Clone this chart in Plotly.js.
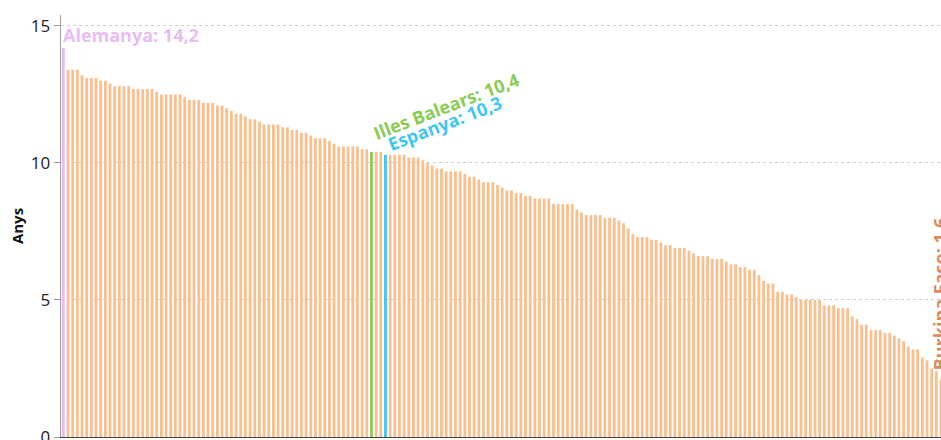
<!DOCTYPE html>
<html>
<head>
<meta charset="utf-8">
<script src="https://cdn.plot.ly/plotly-3.0.1.min.js"></script>
<style>
  html, body { margin: 0; padding: 0; overflow: hidden; background: #fff; }
  #chart { width: 1000px; height: 480px; }
</style>
</head>
<body>
<div id="chart"></div>
<script>
// Mean years of schooling, sorted descending (one bar per territory)
const values = [
  14.2,
  13.4, 13.4, 13.4,
  13.2,
  13.1, 13.1, 13.1,
  13.0, 13.0,
  12.9,
  12.8, 12.8, 12.8, 12.8,
  12.7, 12.7, 12.7, 12.7, 12.7,
  12.6,
  12.5, 12.5, 12.5, 12.5, 12.5,
  12.4,
  12.3, 12.3, 12.3,
  12.2, 12.2, 12.2,
  12.1, 12.1,
  12.0,
  11.9,
  11.8, 11.8,
  11.7,
  11.6, 11.6,
  11.5,
  11.4, 11.4, 11.4, 11.4,
  11.3, 11.3,
  11.2, 11.2,
  11.1, 11.1,
  11.0,
  10.9, 10.9, 10.9,
  10.8,
  10.7,
  10.6, 10.6, 10.6, 10.6, 10.6,
  10.5, 10.5,
  10.4,
  10.4, 10.4,
  10.3,
  10.3, 10.3, 10.3, 10.3,
  10.2, 10.2, 10.2,
  10.1,
  10.0,
  9.9,
  9.8, 9.8,
  9.7, 9.7, 9.7, 9.7,
  9.6,
  9.5, 9.5,
  9.4,
  9.3, 9.3, 9.3,
  9.2,
  9.1,
  9.0, 9.0,
  8.9, 8.9,
  8.8, 8.8,
  8.7, 8.7, 8.7, 8.7,
  8.5, 8.5, 8.5, 8.5, 8.5,
  8.3,
  8.2,
  8.1, 8.1, 8.1, 8.1,
  8.0, 8.0, 8.0,
  7.9,
  7.8,
  7.6,
  7.4,
  7.3, 7.3, 7.3,
  7.2, 7.2,
  7.1,
  7.0, 7.0,
  6.9, 6.9, 6.9,
  6.8,
  6.7,
  6.6, 6.6, 6.6,
  6.5, 6.5, 6.5,
  6.4,
  6.3, 6.3,
  6.2, 6.2,
  6.1, 6.1,
  5.9,
  5.7,
  5.6, 5.6,
  5.3, 5.3,
  5.2, 5.2,
  5.1,
  5.0,
  5.0, 5.0, 5.0, 5.0,
  4.8, 4.8, 4.8,
  4.7, 4.7, 4.7,
  4.4,
  4.3,
  4.1, 4.1,
  3.9, 3.9, 3.9,
  3.8, 3.8,
  3.7,
  3.6,
  3.5,
  3.3,
  3.2, 3.2,
  2.9,
  2.8,
  2.5,
  2.4,
  2.1,
  1.6
];

// Highlighted territories: rank position in the sorted list, label, colour
const highlightNames  = ['Alemanya', 'Illes Balears', 'Espanya', 'Burkina Faso'];
const highlightRanks  = [0, 66, 69, 189];
const highlightColors = ['#e9bdf3', '#8acd55', '#3fc7f4', '#dc8b5f'];
const highlightBarColors = ['#e9bdf3', '#8acd55', '#3fc7f4', '#fbbf8e'];
const baseColor = '#fbbf8e';
const tickValues = [0, 5, 10, 15];

const colors = values.map(() => baseColor);
highlightRanks.forEach((r, k) => { colors[r] = highlightBarColors[k]; });

const fmt = v => v.toFixed(1).replace('.', ',');

const labelStyle = [
  { xanchor: 'left',   yanchor: 'bottom', textangle: 0,   yshift: -1, xshift: -2 },
  { xanchor: 'left',   yanchor: 'bottom', textangle: -21, yshift: 5,  xshift: -4 },
  { xanchor: 'left',   yanchor: 'bottom', textangle: -21, yshift: -4, xshift: -3 },
  { xanchor: 'center', yanchor: 'bottom', textangle: -90, yshift: 21, xshift: -6 }
];

const annotations = highlightRanks.map((r, k) => Object.assign({
  x: r,
  y: values[r],
  xref: 'x',
  yref: 'y',
  text: highlightNames[k] + ': ' + fmt(values[r]),
  showarrow: false,
  font: { family: 'Open Sans', size: 18, weight: 700, color: highlightColors[k] }
}, labelStyle[k]));

const trace = {
  type: 'bar',
  y: values,
  marker: { color: colors, line: { width: 0 } },
  hoverinfo: 'y'
};

const layout = {
  width: 1000,
  height: 480,
  margin: { l: 61, r: 52, t: 15, b: 43 },
  paper_bgcolor: '#ffffff',
  plot_bgcolor: '#ffffff',
  bargap: 0.4,
  showlegend: false,
  font: { family: 'Open Sans', color: '#222' },
  xaxis: {
    range: [-0.5, values.length - 0.5],
    showticklabels: false,
    ticks: '',
    showgrid: false,
    zeroline: false,
    showline: true,
    linecolor: '#444',
    linewidth: 1.3
  },
  yaxis: {
    range: [0, 15.4],
    tickvals: tickValues,
    ticks: 'outside',
    ticklen: 6,
    tickcolor: '#999',
    tickwidth: 1,
    tickfont: { family: 'Open Sans', size: 17, color: '#222' },
    showline: true,
    linecolor: '#a0a0a0',
    linewidth: 1.3,
    showgrid: true,
    gridcolor: '#cfcfcf',
    griddash: 'dot',
    gridwidth: 1,
    zeroline: false,
    title: { text: 'Anys', font: { family: 'Open Sans', size: 15, weight: 700, color: '#111' }, standoff: 3 }
  },
  annotations: annotations
};

Plotly.newPlot('chart', [trace], layout, { displayModeBar: false, staticPlot: true });
</script>
</body>
</html>
